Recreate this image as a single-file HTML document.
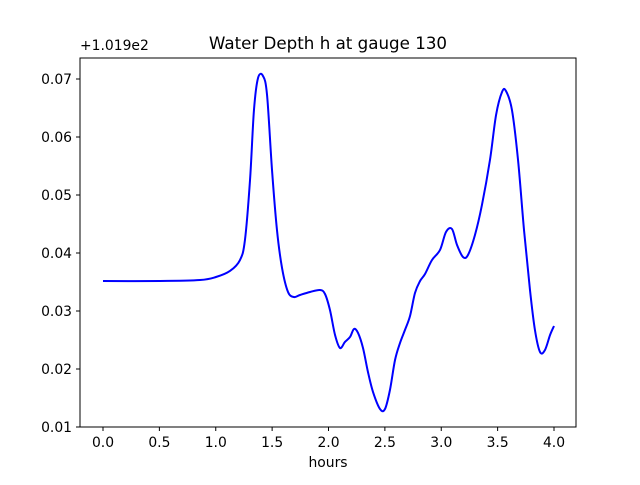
<!DOCTYPE html>
<html><head><meta charset="utf-8"><style>
html,body{margin:0;padding:0;background:#fff;}
svg text{font-family:"DejaVu Sans","Liberation Sans",sans-serif;fill:#000;}
</style></head><body>
<svg id="chart" width="640" height="480" viewBox="0 0 640 480" xmlns="http://www.w3.org/2000/svg">
<rect width="640" height="480" fill="#fff"/>
<text x="328" y="49" font-size="16.7" text-anchor="middle">Water Depth h at gauge 130</text>
<text x="80" y="50" font-size="13.9">+1.019e2</text>
<text x="328" y="467" font-size="13.9" text-anchor="middle">hours</text>
<g id="ticks"></g>
<path id="series" fill="none" stroke="#0000ff" stroke-width="2"/>
<rect x="80" y="58" width="496" height="369" fill="none" stroke="#000" stroke-width="1"/>
</svg>
<script>
const hours = [0,0.506,0.860,1.002,1.126,1.215,1.259,1.304,1.339,1.375,1.419,1.455,1.499,1.543,1.588,1.641,1.694,1.747,1.836,1.925,1.969,2.013,2.058,2.102,2.146,2.191,2.226,2.262,2.306,2.350,2.395,2.457,2.501,2.545,2.590,2.634,2.678,2.723,2.767,2.812,2.856,2.918,2.989,3.042,3.095,3.140,3.193,3.237,3.299,3.361,3.432,3.486,3.539,3.574,3.627,3.681,3.734,3.787,3.831,3.876,3.920,3.965,4.0];
const depth = [0.03517,0.03517,0.03534,0.03586,0.03690,0.03879,0.04224,0.05259,0.06466,0.07017,0.07052,0.06724,0.05431,0.04397,0.03741,0.03328,0.03241,0.03276,0.03328,0.03362,0.03293,0.03017,0.02586,0.02362,0.02466,0.02552,0.02690,0.02621,0.02362,0.01948,0.01603,0.01310,0.01310,0.01638,0.02155,0.02448,0.02672,0.02914,0.03310,0.03517,0.03638,0.03879,0.04052,0.04362,0.04414,0.04138,0.03931,0.03966,0.04310,0.04828,0.05603,0.06379,0.06776,0.06793,0.06466,0.05603,0.04397,0.03362,0.02672,0.02293,0.02328,0.02586,0.02741];
const xTicks = [0,0.5,1,1.5,2,2.5,3,3.5,4];
const xTickLabels = ["0.0","0.5","1.0","1.5","2.0","2.5","3.0","3.5","4.0"];
const yTicks = [0.01,0.02,0.03,0.04,0.05,0.06,0.07];
const yTickLabels = ["0.01","0.02","0.03","0.04","0.05","0.06","0.07"];

const X = h => 103 + h * 112.75;
const Y = v => 427 - (v - 0.01) * 5800;
const NS = "http://www.w3.org/2000/svg";
const g = document.getElementById('ticks');
xTicks.forEach((t,i)=>{
  const l = document.createElementNS(NS,'line');
  
  
  l.setAttribute('x1',X(t));l.setAttribute('x2',X(t));l.setAttribute('y1',427);l.setAttribute('y2',431);
  l.setAttribute('stroke','#000');g.appendChild(l);
  const tx = document.createElementNS(NS,'text');
  
  
  tx.setAttribute('x',X(t));tx.setAttribute('y',447);tx.setAttribute('font-size','13.9');tx.setAttribute('text-anchor','middle');
  tx.textContent = xTickLabels[i];g.appendChild(tx);
});
yTicks.forEach((t,i)=>{
  const l = document.createElementNS(NS,'line');
  
  
  l.setAttribute('x1',76);l.setAttribute('x2',80);l.setAttribute('y1',Y(t));l.setAttribute('y2',Y(t));
  l.setAttribute('stroke','#000');g.appendChild(l);
  const tx = document.createElementNS(NS,'text');
  
  
  tx.setAttribute('x',72);tx.setAttribute('y',Y(t)+5);tx.setAttribute('font-size','13.9');tx.setAttribute('text-anchor','end');
  tx.textContent = yTickLabels[i];g.appendChild(tx);
});
const pts = hours.map((h,i)=>[X(h),Y(depth[i])]);
let d = 'M'+pts[0][0]+','+pts[0][1];
for(let i=0;i<pts.length-1;i++){
  const p0=pts[Math.max(0,i-1)],p1=pts[i],p2=pts[i+1],p3=pts[Math.min(pts.length-1,i+2)];
  const c1=[p1[0]+(p2[0]-p0[0])/6,p1[1]+(p2[1]-p0[1])/6];
  const c2=[p2[0]-(p3[0]-p1[0])/6,p2[1]-(p3[1]-p1[1])/6];
  d+=' C'+c1[0]+','+c1[1]+' '+c2[0]+','+c2[1]+' '+p2[0]+','+p2[1];
}
document.getElementById('series').setAttribute('d',d);
</script>
</body></html>
